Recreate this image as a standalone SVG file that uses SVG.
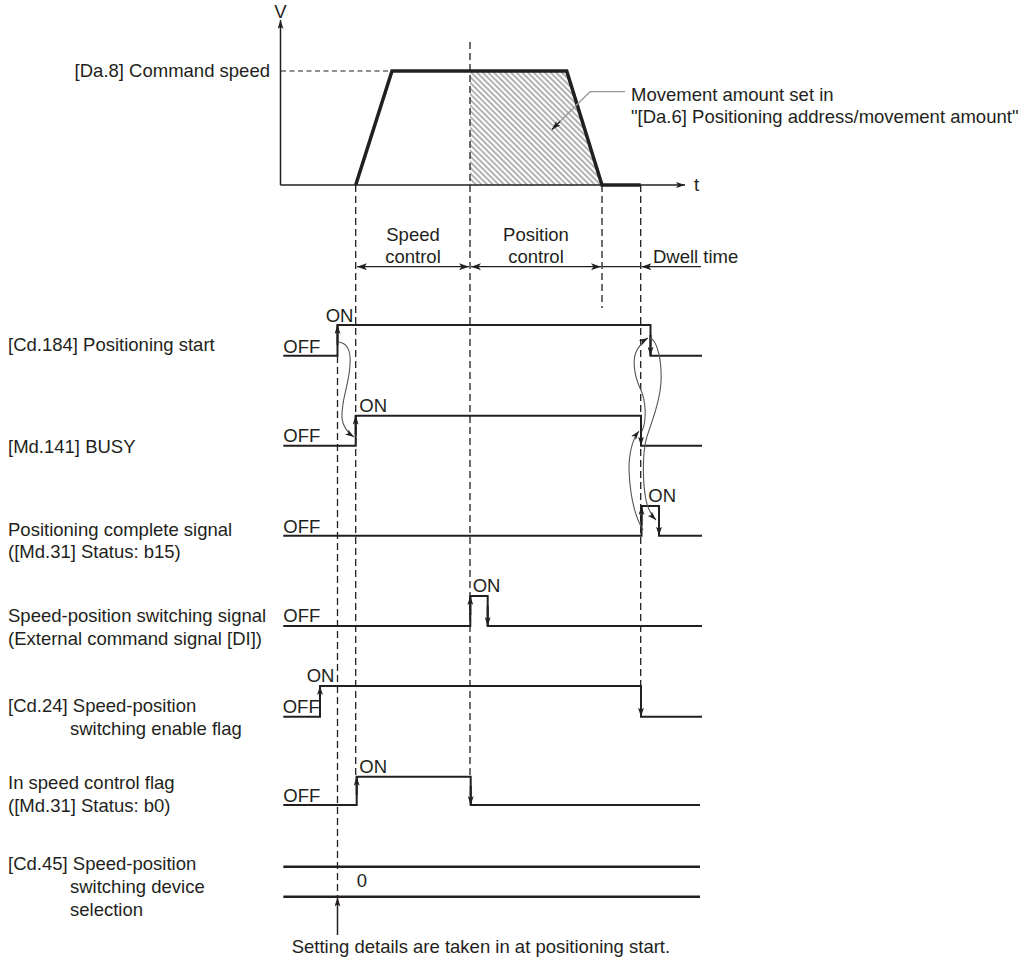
<svg xmlns="http://www.w3.org/2000/svg" width="1021" height="960" viewBox="0 0 1021 960">
<style>
text{font-family:"Liberation Sans",Arial,sans-serif;font-size:18.5px;fill:#231f20}
.mid{text-anchor:middle}
.end{text-anchor:end}
.sig{fill:none;stroke:#231f20;stroke-width:2}
.edge{stroke:#231f20;stroke-width:2;marker-end:url(#ah)}
.dash{fill:none;stroke:#231f20;stroke-width:1.3;stroke-dasharray:7 4}
.axis{fill:none;stroke:#231f20;stroke-width:1.5}
.curve{fill:none;stroke:#555;stroke-width:1.1;marker-end:url(#ahc)}
.dim{stroke:#231f20;stroke-width:1.3;fill:none}
</style>
<defs>
<marker id="ah" viewBox="0 0 10 10" refX="10" refY="5" markerWidth="9" markerHeight="6" markerUnits="userSpaceOnUse" orient="auto" preserveAspectRatio="none">
<path d="M0,0 L10,5 L0,10 L2.5,5 z" fill="#231f20"/>
</marker>
<marker id="ahc" viewBox="0 0 10 10" refX="10" refY="5" markerWidth="9" markerHeight="6" markerUnits="userSpaceOnUse" orient="auto" preserveAspectRatio="none">
<path d="M0,0 L10,5 L0,10 L2.5,5 z" fill="#231f20"/>
</marker>
<marker id="ahd" viewBox="0 0 10 10" refX="10" refY="5" markerWidth="10" markerHeight="7" markerUnits="userSpaceOnUse" orient="auto-start-reverse" preserveAspectRatio="none">
<path d="M0,0 L10,5 L0,10 L2.5,5 z" fill="#231f20"/>
</marker>
<pattern id="hatch" patternUnits="userSpaceOnUse" width="4" height="4" patternTransform="rotate(-45)">
<line x1="2" y1="0" x2="2" y2="4" stroke="#555" stroke-width="0.9"/>
</pattern>
</defs>

<g id="speed-graph">
<polygon points="470,71 566.7,71 602,185 470,185" fill="url(#hatch)"/>
<line class="axis" x1="280.5" y1="185" x2="280.5" y2="20" marker-end="url(#ah)"/>
<line class="axis" x1="280.5" y1="185" x2="685" y2="185" marker-end="url(#ah)"/>
<line x1="281" y1="71" x2="392" y2="71" stroke="#231f20" stroke-width="1.1" stroke-dasharray="5 3.5"/>
<path d="M355.7,185 L392,71 L566.7,71 L602,185 L640.7,185" fill="none" stroke="#231f20" stroke-width="3.5" stroke-linejoin="miter"/>
<polyline points="625,91.7 590,91.7 553,128.5" fill="none" stroke="#999" stroke-width="1.2"/>
<line x1="560" y1="121.5" x2="552" y2="129.5" stroke="#231f20" stroke-width="1.2" marker-end="url(#ah)"/>
<text x="280.5" y="17.5" class="mid">V</text>
<text x="694" y="191">t</text>
<text x="270" y="77" class="end">[Da.8] Command speed</text>
<text x="631" y="100.5">Movement amount set in</text>
<text x="631" y="123">"[Da.6] Positioning address/movement amount"</text>
</g>

<g id="phases">
<line class="dim" x1="357" y1="266.7" x2="469" y2="266.7" marker-start="url(#ahd)" marker-end="url(#ahd)"/>
<line class="dim" x1="471" y1="266.7" x2="601" y2="266.7" marker-start="url(#ahd)" marker-end="url(#ahd)"/>
<line class="dim" x1="602" y1="266.7" x2="641" y2="266.7"/>
<line class="dim" x1="641.5" y1="266.7" x2="701" y2="266.7" marker-start="url(#ahd)"/>
<text x="413" y="241" class="mid">Speed</text>
<text x="413" y="263" class="mid">control</text>
<text x="536" y="241" class="mid">Position</text>
<text x="536" y="263" class="mid">control</text>
<text x="653" y="263">Dwell time</text>
</g>

<g id="guides">
<line class="dash" x1="470" y1="42" x2="470" y2="776"/>
<line class="dash" x1="355.7" y1="185" x2="355.7" y2="776"/>
<line class="dash" x1="337.5" y1="356" x2="337.5" y2="896"/>
<line class="dash" x1="602" y1="185" x2="602" y2="308"/>
<line class="dash" x1="640.7" y1="185" x2="640.7" y2="686"/>
</g>

<g id="sig-positioning-start">
<text x="8" y="351">[Cd.184] Positioning start</text>
<polyline class="sig" points="283.3,355.7 337.5,355.7 337.5,325 650.5,325 650.5,355.7 702,355.7"/>
<line class="edge" x1="337.5" y1="345" x2="337.5" y2="325"/>
<line class="edge" x1="650.5" y1="335" x2="650.5" y2="355.7"/>
<text x="283.3" y="353">OFF</text>
<text x="325.7" y="321.5">ON</text>
</g>

<g id="sig-busy">
<text x="8" y="452.5">[Md.141] BUSY</text>
<polyline class="sig" points="283.3,445.7 355.7,445.7 355.7,415.7 641,415.7 641,445.7 702,445.7"/>
<line class="edge" x1="355.7" y1="435" x2="355.7" y2="415.7"/>
<line class="edge" x1="641" y1="425" x2="641" y2="445.7"/>
<text x="283.3" y="442">OFF</text>
<text x="359.3" y="412">ON</text>
</g>

<g id="sig-positioning-complete">
<text x="8" y="535.5">Positioning complete signal</text>
<text x="8" y="557.5">([Md.31] Status: b15)</text>
<polyline class="sig" points="283.3,535.7 641.5,535.7 641.5,506 659,506 659,535.7 702,535.7"/>
<line class="edge" x1="641.5" y1="525" x2="641.5" y2="506"/>
<line class="edge" x1="659" y1="516" x2="659" y2="535.7"/>
<text x="283.3" y="532.5">OFF</text>
<text x="648.3" y="501.7">ON</text>
</g>

<g id="sig-speed-position-switching">
<text x="8" y="622">Speed-position switching signal</text>
<text x="8" y="644.5">(External command signal [DI])</text>
<polyline class="sig" points="283.3,626 470.3,626 470.3,596 487.7,596 487.7,626 702,626"/>
<line class="edge" x1="470.3" y1="615" x2="470.3" y2="596"/>
<line class="edge" x1="487.7" y1="606" x2="487.7" y2="626"/>
<text x="283.3" y="622">OFF</text>
<text x="472.7" y="591.7">ON</text>
</g>

<g id="sig-cd24">
<text x="8" y="712">[Cd.24] Speed-position</text>
<text x="70" y="735">switching enable flag</text>
<polyline class="sig" points="283.3,716.7 320,716.7 320,686 641,686 641,716.7 702,716.7"/>
<line class="edge" x1="320" y1="706" x2="320" y2="686"/>
<line class="edge" x1="641" y1="696" x2="641" y2="716.7"/>
<text x="282.7" y="713">OFF</text>
<text x="306.7" y="682.3">ON</text>
</g>

<g id="sig-in-speed-control">
<text x="8" y="788.5">In speed control flag</text>
<text x="8" y="811.5">([Md.31] Status: b0)</text>
<polyline class="sig" points="283.3,805 356.7,805 356.7,776.7 470.7,776.7 470.7,805 700,805"/>
<line class="edge" x1="356.7" y1="795" x2="356.7" y2="776.7"/>
<line class="edge" x1="470.7" y1="786" x2="470.7" y2="805"/>
<text x="283.3" y="802">OFF</text>
<text x="359.3" y="772.5">ON</text>
</g>

<g id="sig-cd45">
<text x="8" y="869.5">[Cd.45] Speed-position</text>
<text x="70" y="892.5">switching device</text>
<text x="70" y="915.5">selection</text>
<line x1="283.3" y1="866.7" x2="700" y2="866.7" stroke="#231f20" stroke-width="2.5"/>
<line x1="283.3" y1="896.7" x2="700" y2="896.7" stroke="#231f20" stroke-width="2.5"/>
<text x="356.7" y="886.7">0</text>
</g>

<g id="connectors">
<path class="curve" d="M338.5,342 C348,343 351,352 350,365 C349,385 341,400 342,418 C343,428 348,433 354,437"/>
<path class="curve" d="M642,431 C647,420 646,400 640,388 C634,375 632,358 637,350 C640,345 643,341 648,338"/>
<path class="curve" d="M650,338 C657,340 662,360 661,382 C660,405 650,425 646,440 C642,458 643,485 646,500 C648,510 651,515 656,520"/>
<path class="curve" d="M643,530 C634,515 630,495 629,470 C629,452 632,440 639,431"/>
<line x1="337.5" y1="935" x2="337.5" y2="897.5" stroke="#231f20" stroke-width="1.5" marker-end="url(#ah)"/>
</g>

<text x="291.7" y="953">Setting details are taken in at positioning start.</text>
</svg>
